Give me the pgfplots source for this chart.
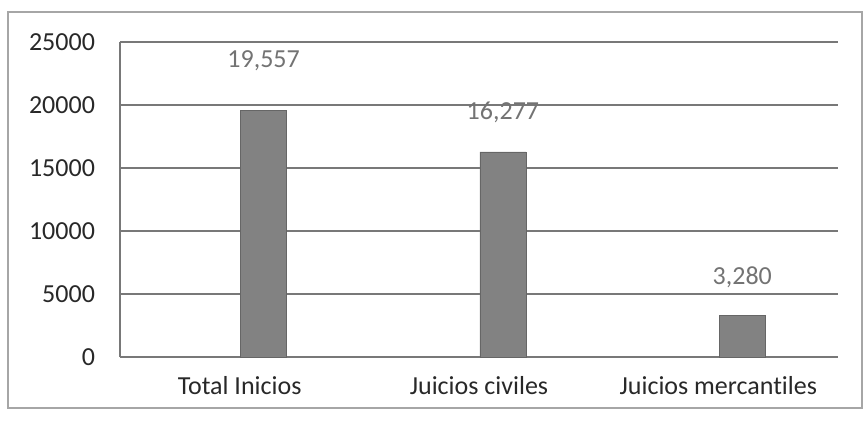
\documentclass[border=0pt]{standalone}
\usepackage{pgfplots}
\pgfplotsset{compat=1.18}
\usepackage{fontspec}
\setmainfont[Ligatures=NoCommon]{Carlito}
\definecolor{barfill}{RGB}{130,130,130}
\definecolor{gridc}{RGB}{120,120,120}
\definecolor{txt}{RGB}{40,40,40}
\begin{document}
\begin{tikzpicture}[x=1pt,y=1pt]
\path[use as bounding box] (0,0) rectangle (432,210);
\draw[gray!70, line width=0.8pt] (4,6) rectangle (431,204);
\begin{axis}[
  at={(60pt,31.5pt)}, anchor=south west,
  scale only axis, width=359pt, height=157.5pt,
  xmin=-0.5, xmax=2.5, ymin=0, ymax=25000,
  xtick={0,1,2},
  xticklabels={Total Inicios, Juicios civiles, Juicios mercantiles},
  ytick={0,5000,10000,15000,20000,25000},
  scaled y ticks=false,
  /pgf/number format/assume math mode=true,
  yticklabel={\pgfmathprintnumber[fixed,1000 sep={}]{\tick}},
  major tick length=0pt,
  ymajorgrids, grid style={gridc, line width=0.6pt},
  axis line style={gridc, line width=0.6pt},
  axis x line*=bottom, axis y line*=left,
  yticklabel style={font=\fontsize{13}{15}\selectfont, text=txt, xshift=-9pt},
  xticklabel style={font=\fontsize{13}{15}\selectfont, text=txt, yshift=-6pt},
  clip=false,
]
\addplot[ybar, bar width=23pt, fill=barfill, draw=black!60]
  coordinates {(0.1,19557) (1.1,16277) (2.1,3280)};
\addplot[only marks, mark=none, point meta=explicit symbolic,
  nodes near coords, nodes near coords style={anchor=center, text=gray!90!black, font=\fontsize{13}{15}\selectfont}]
  coordinates {(0.1,23500)[19,557] (1.1,19400)[16,277] (2.1,6350)[3,280]};
\end{axis}
\end{tikzpicture}
\end{document}
